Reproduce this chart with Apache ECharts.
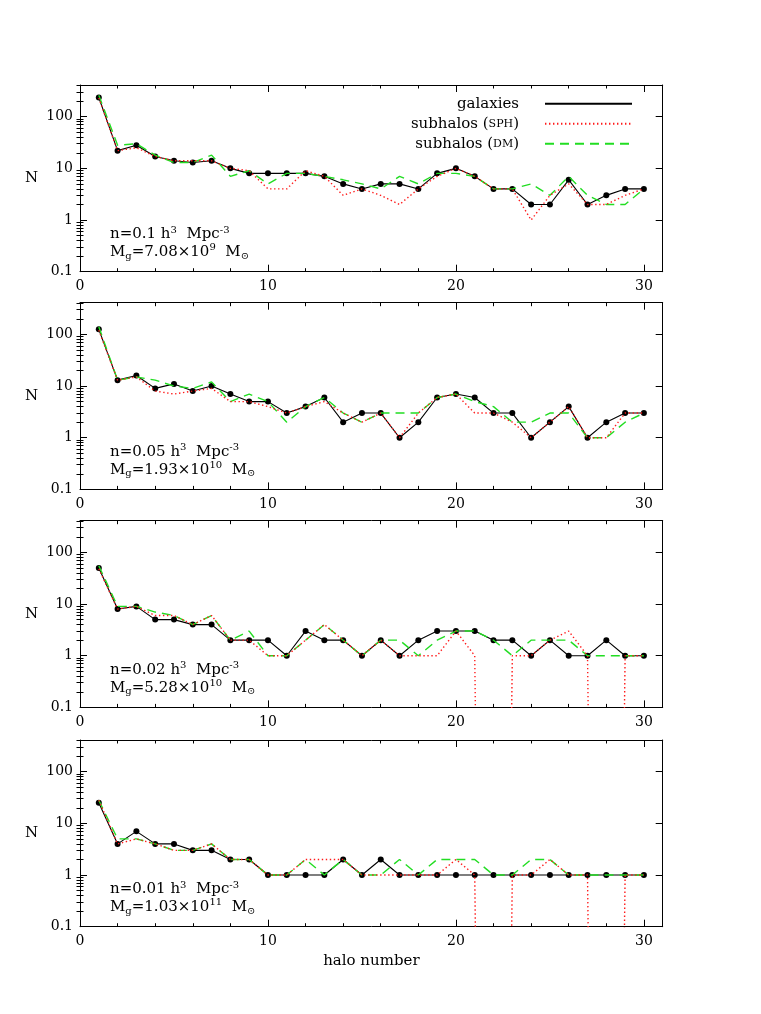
<!DOCTYPE html>
<html>
<head>
<meta charset="utf-8">
<script src="https://cdn.jsdelivr.net/npm/echarts@6/dist/echarts.min.js"></script>
<style>
html,body{margin:0;padding:0;background:#fff;}
#chart{width:761px;height:1014px;}
</style>
</head>
<body>
<div id="chart"></div>
<script>
// ---------------- data ----------------
const haloNumber = [1,2,3,4,5,6,7,8,9,10,11,12,13,14,15,16,17,18,19,20,21,22,23,24,25,26,27,28,29,30];

const xTicks = [0, 10, 20, 30];
const xMinorTicks = [2,4,6,8,12,14,16,18,22,24,26,28];
const yTicks = [0.1, 1, 10, 100];
const yMinorTicks = [0.2,0.3,0.4,0.5,0.6,0.7,0.8,0.9,2,3,4,5,6,7,8,9,20,30,40,50,60,70,80,90,200,300,400];

const seriesNames = ['galaxies', 'subhalos (SPH)', 'subhalos (DM)'];

// panel 1: n = 0.1
const galaxies1 = [235,22,28,17,14,13,14,10,8,8,8,8,7,5,4,5,5,4,8,10,7,4,4,2,2,6,2,3,4,4];
const sph1      = [230,22,25,17,14,14,14,10,9,4,4,9,7,3,4,3,2,4,7,10,7,4,4,1,3,5,2,2,3,4];
const dm1       = [260,28,30,18,13,13,18,7,9,5,8,8,7,6,5,4,7,5,8,8,7,4,4,5,3,7,3,2,2,4];
// panel 2: n = 0.05
const galaxies2 = [125,13,16,9,11,8,10,7,5,5,3,4,6,2,3,3,1,2,6,7,6,3,3,1,2,4,1,2,3,3];
const sph2      = [120,13,15,8,7,8,9,5,5,4,3,4,5,3,2,3,1,3,6,7,3,3,2,1,2,4,1,1,3,3];
const dm2       = [140,13,15,13,10,9,12,5,7,5,2,4,6,3,2,3,3,3,6,7,5,4,2,2,3,3,1,1,2,3];
// panel 3: n = 0.02   (0 = no subhalo; drawn off the bottom of the log axis)
const galaxies3 = [50,8,9,5,5,4,4,2,2,2,1,3,2,2,1,2,1,2,3,3,3,2,2,1,2,1,1,2,1,1];
const sph3      = [48,8,9,6,6,4,6,2,2,1,1,2,4,2,1,2,1,1,1,3,1,0,1,1,2,3,1,0,1,1];
const dm3       = [55,9,9,7,6,4,6,2,3,1,1,2,4,2,1,2,2,1,2,3,3,2,1,2,2,2,1,1,1,1];
// panel 4: n = 0.01
const galaxies4 = [25,4,7,4,4,3,3,2,2,1,1,1,1,2,1,2,1,1,1,1,1,1,1,1,1,1,1,1,1,1];
const sph4      = [28,4,5,4,3,3,4,2,2,1,1,2,2,2,1,1,1,1,1,2,1,0,1,1,2,1,1,0,1,1];
const dm4       = [28,5,5,4,3,3,4,2,2,1,1,2,1,2,1,1,2,1,2,2,2,1,1,2,2,1,1,1,1,1];

const densities     = ['0.1', '0.05', '0.02', '0.01'];
const massMantissas = ['7.08', '1.93', '5.28', '1.03'];
const massExponents = ['9', '10', '10', '11'];

const panels = [
  [galaxies1, sph1, dm1],
  [galaxies2, sph2, dm2],
  [galaxies3, sph3, dm3],
  [galaxies4, sph4, dm4]
];

// ---------------- layout / style ----------------
const FONT = 'DejaVu Serif';
const panelTops = [85, 302.7, 520.7, 740];
const panelHeight = 186.7;
const gridLeft = 80, gridRight = 98.3;
const X_MIN = 0, X_MAX = 31, Y_MIN = 0.1, Y_MAX = 410;
const ZERO_ON_LOG = 1e-30;   // a zero count falls straight off the bottom of the log axis

const lineStyles = [
  {color: '#000000', width: 1.1, type: 'solid'},
  {color: '#ff1a1a', width: 1.4, type: [1.4, 2.6]},
  {color: '#22dd22', width: 1.4, type: [9, 6]}
];

const grids = [], xAxes = [], yAxes = [], series = [], graphics = [];
const axisLineStyle = {show: true, onZero: false, lineStyle: {color: '#000', width: 1}};
const tickLine = {color: '#000', width: 1};

panels.forEach((pdata, i) => {
  grids.push({left: gridLeft, right: gridRight, top: panelTops[i], height: panelHeight});

  const xBase = {gridIndex: i, type: 'value', min: X_MIN, max: X_MAX, splitLine: {show: false}, silent: true};
  const xb = xAxes.length;
  xAxes.push(Object.assign({}, xBase, {
    position: 'bottom', axisLine: axisLineStyle,
    axisTick: {show: true, inside: true, length: 7, customValues: xTicks, lineStyle: tickLine},
    axisLabel: {show: true, customValues: xTicks, margin: 8, color: '#000', fontFamily: FONT, fontSize: 14},
    name: i === 3 ? 'halo number' : '', nameLocation: 'middle', nameGap: 27,
    nameTextStyle: {color: '#000', fontFamily: FONT, fontSize: 15}
  }));
  xAxes.push(Object.assign({}, xBase, {
    position: 'bottom', axisLine: {show: false},
    axisTick: {show: true, inside: true, length: 3.5, customValues: xMinorTicks, lineStyle: tickLine},
    axisLabel: {show: false}
  }));
  xAxes.push(Object.assign({}, xBase, {
    position: 'top', axisLine: axisLineStyle,
    axisTick: {show: true, inside: true, length: 7, customValues: xTicks, lineStyle: tickLine},
    axisLabel: {show: false}
  }));
  xAxes.push(Object.assign({}, xBase, {
    position: 'top', axisLine: {show: false},
    axisTick: {show: true, inside: true, length: 3.5, customValues: xMinorTicks, lineStyle: tickLine},
    axisLabel: {show: false}
  }));

  const yBase = {gridIndex: i, type: 'log', logBase: 10, min: Y_MIN, max: Y_MAX, splitLine: {show: false}, silent: true};
  const yb = yAxes.length;
  yAxes.push(Object.assign({}, yBase, {
    position: 'left', axisLine: axisLineStyle,
    axisTick: {show: true, inside: true, length: 7, customValues: yTicks, lineStyle: tickLine},
    axisLabel: {show: true, customValues: yTicks, margin: 7, color: '#000', fontFamily: FONT, fontSize: 14},
    name: 'N', nameLocation: 'middle', nameGap: 42, nameRotate: 0,
    nameTextStyle: {color: '#000', fontFamily: FONT, fontSize: 15}
  }));
  yAxes.push(Object.assign({}, yBase, {
    position: 'left', axisLine: {show: false},
    axisTick: {show: true, inside: true, length: 3.5, customValues: yMinorTicks, lineStyle: tickLine},
    axisLabel: {show: false}
  }));
  yAxes.push(Object.assign({}, yBase, {
    position: 'right', axisLine: axisLineStyle,
    axisTick: {show: true, inside: true, length: 7, customValues: yTicks, lineStyle: tickLine},
    axisLabel: {show: false}
  }));
  yAxes.push(Object.assign({}, yBase, {
    position: 'right', axisLine: {show: false},
    axisTick: {show: true, inside: true, length: 3.5, customValues: yMinorTicks, lineStyle: tickLine},
    axisLabel: {show: false}
  }));

  pdata.forEach((vals, s) => {
    const isGal = s === 0;
    series.push({
      type: 'line',
      name: seriesNames[s],
      xAxisIndex: xb,
      yAxisIndex: yb,
      data: haloNumber.map((h, k) => [h, vals[k] > 0 ? vals[k] : ZERO_ON_LOG]),
      symbol: isGal ? 'circle' : 'none',
      symbolSize: 6,
      showSymbol: isGal,
      clip: true,
      silent: true,
      itemStyle: {color: lineStyles[s].color},
      lineStyle: lineStyles[s],
      z: isGal ? 2 : (s === 1 ? 4 : 3)
    });
  });

  const richAnn = {
    t: {fontFamily: FONT, fontSize: 15, fill: '#000', lineHeight: 20},
    sup: {fontFamily: FONT, fontSize: 10, fill: '#000', lineHeight: 20, padding: [0, 0, 9, 0]},
    sub: {fontFamily: FONT, fontSize: 10, fill: '#000', lineHeight: 20, padding: [8, 0, 0, 0]}
  };
  graphics.push({
    type: 'text', left: 110, top: panelTops[i] + 140, silent: true,
    style: {
      text: '{t|n=' + densities[i] + ' h}{sup|3}{t|  Mpc}{sup|-3}',
      rich: richAnn, fill: '#000', verticalAlign: 'top'
    }
  });
  graphics.push({
    type: 'text', left: 110, top: panelTops[i] + 157.5, silent: true,
    style: {
      text: '{t|M}{sub|g}{t|=' + massMantissas[i] + '×10}{sup|' + massExponents[i] + '}{t|  M}{sub|⊙}',
      rich: richAnn, fill: '#000', verticalAlign: 'top'
    }
  });
});

const option = {
  animation: false,
  backgroundColor: '#ffffff',
  grid: grids,
  xAxis: xAxes,
  yAxis: yAxes,
  series: series,
  graphic: graphics,
  legend: {
    show: true,
    orient: 'vertical',
    right: 128,
    top: 96.3,
    padding: 0,
    align: 'right',
    itemWidth: 87,
    itemHeight: 14,
    itemGap: 5,
    selectedMode: false,
    data: seriesNames,
    itemStyle: {opacity: 0},
    formatter: function (name) {
      const m = name.match(/^(.*\()(\w+)(\))$/);
      if (m) return '{a|' + m[1] + '}{s|' + m[2] + '}{a|' + m[3] + '}';
      return '{a|' + name + '}';
    },
    textStyle: {
      color: '#000',
      padding: [0, 21, 0, 0],
      rich: {
        a: {fontFamily: FONT, fontSize: 15, color: '#000'},
        s: {fontFamily: FONT, fontSize: 11, color: '#000'}
      }
    }
  }
};

const chart = echarts.init(document.getElementById('chart'), null, {renderer: 'canvas'});
chart.setOption(option);
</script>
</body>
</html>
